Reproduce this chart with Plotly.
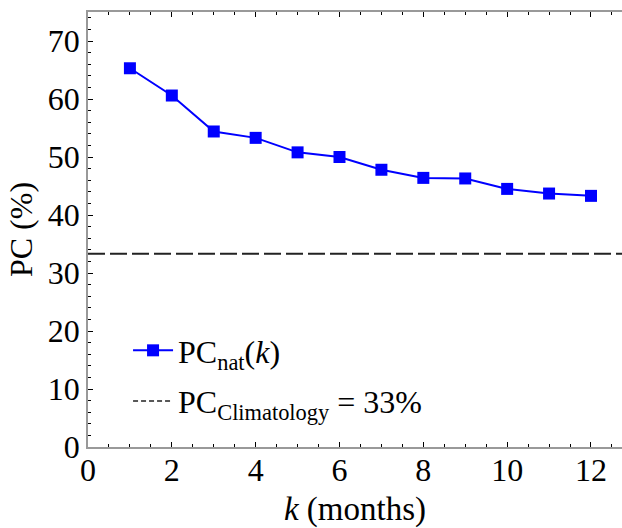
import plotly.graph_objects as go

k_months = [1, 2, 3, 4, 5, 6, 7, 8, 9, 10, 11, 12]
pc_nat = [65.3, 60.6, 54.4, 53.3, 50.8, 50.0, 47.8, 46.4, 46.3, 44.5, 43.7, 43.3]
pc_clim = 100 / 3
clim_x = [0, 12.75]

FONT = "Liberation Serif"

fig = go.Figure()
fig.add_trace(go.Scatter(
    x=k_months, y=pc_nat, mode="lines+markers",
    name="PC<sub>nat</sub>(<i>k</i>)", legendgroup="a",
    line=dict(color="#0000ff", width=2),
    marker=dict(symbol="square", size=12, color="#0000ff"),
))
fig.add_trace(go.Scatter(
    x=clim_x, y=[pc_clim, pc_clim], mode="lines",
    name="PC<sub>Climatology</sub> = 33%", legendgroup="b", showlegend=False,
    line=dict(color="#222222", width=2, dash="17px,5px"),
))
# legend entry for the climatology line (short dashes, as in the reference legend)
fig.add_trace(go.Scatter(
    x=[None], y=[None], mode="lines",
    name="PC<sub>Climatology</sub> = 33%", legendgroup="b",
    line=dict(color="#222222", width=1.5, dash="5px,3px"),
))

fig.update_layout(
    width=622, height=528,
    margin=dict(l=88, r=0, t=12, b=81),
    plot_bgcolor="white", paper_bgcolor="white",
    font=dict(family=FONT, color="black", size=32),
    legend=dict(x=0.075, y=0.285, xanchor="left", yanchor="top",
                bgcolor="rgba(0,0,0,0)", font=dict(size=32, family=FONT),
                itemwidth=40, tracegroupgap=6),
    xaxis=dict(
        range=[0, 12.74], dtick=2, tick0=0, automargin=False,
        showline=True, linecolor="#999999", linewidth=1.5, mirror="ticks",
        ticks="inside", ticklen=5, tickcolor="black", tickwidth=1,
        minor=dict(dtick=0.5, ticks="inside", ticklen=3, tickcolor="black"),
        showgrid=False, zeroline=False, ticklabelstandoff=-6,
        tickfont=dict(size=32, family=FONT),
        title=dict(text="<i>k</i> (months)", font=dict(size=33, family=FONT), standoff=12),
    ),
    yaxis=dict(
        range=[0, 75], dtick=10, tick0=0, automargin=False,
        showline=True, linecolor="#999999", linewidth=1.5, mirror=False,
        ticks="inside", ticklen=5, tickcolor="black", tickwidth=1,
        minor=dict(dtick=2, ticks="inside", ticklen=3, tickcolor="black"),
        showgrid=False, zeroline=False,
        tickfont=dict(size=32, family=FONT),
        title=dict(text="PC (%)", font=dict(size=32, family=FONT), standoff=6),
    ),
)

fig.write_html("out.html", config={"displayModeBar": False},
               post_script="document.body.style.margin='0';")
